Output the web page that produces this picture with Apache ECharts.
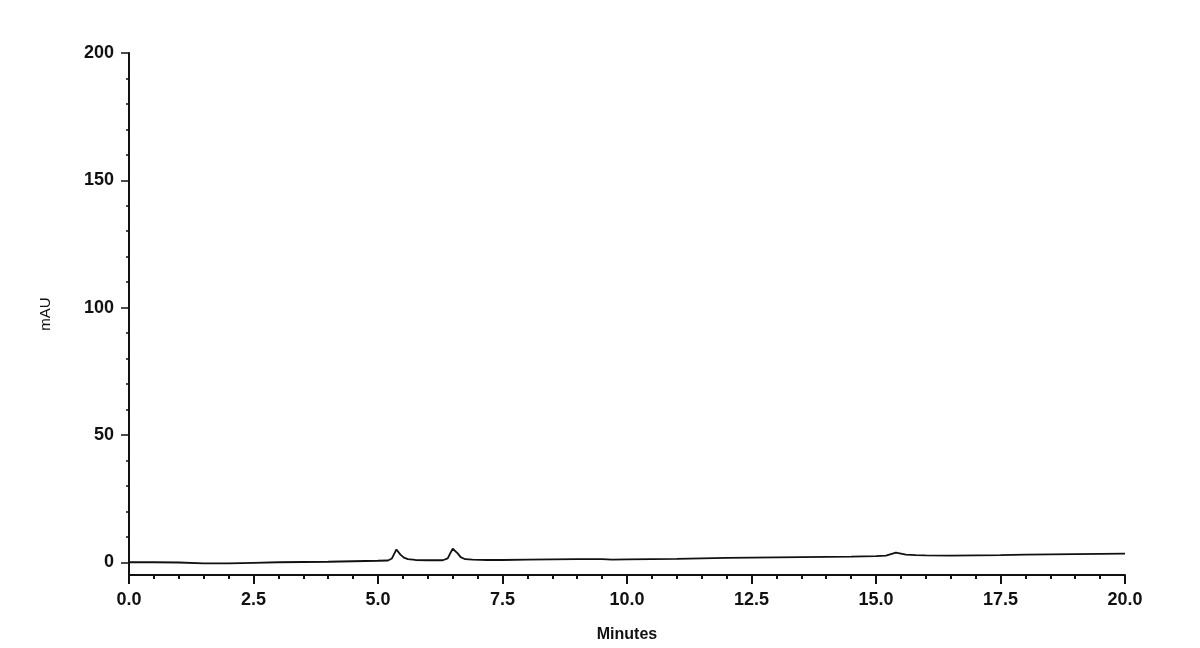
<!DOCTYPE html>
<html>
<head>
<meta charset="utf-8">
<script src="https://cdn.jsdelivr.net/npm/echarts@6/dist/echarts.min.js"></script>
<style>html,body{margin:0;padding:0;background:#fff;}#chart{width:1200px;height:648px;}</style>
</head>
<body>
<div id="chart"></div>
<script>
// Retention time (minutes) and absorbance (mAU)
var times = [0, 0.5, 1.0, 1.5, 2.0, 2.5, 3.0, 3.5, 4.0, 4.5, 5.0, 5.2, 5.28, 5.33, 5.37, 5.40, 5.45, 5.52, 5.6, 5.75, 6.0, 6.3, 6.4, 6.45, 6.5, 6.54, 6.6, 6.66, 6.75, 6.9, 7.2, 7.5, 8.0, 8.5, 9.0, 9.5, 9.7, 10.0, 10.5, 11.0, 11.5, 12.0, 12.5, 13.0, 13.5, 14.0, 14.5, 15.0, 15.2, 15.3, 15.4, 15.5, 15.6, 15.8, 16.0, 16.5, 17.0, 17.5, 18.0, 18.5, 19.0, 19.5, 20.0];
var mAU   = [0.0, 0.0, -0.1, -0.4, -0.4, -0.2, 0.0, 0.1, 0.2, 0.4, 0.6, 0.7, 1.5, 3.5, 5.0, 4.5, 3.0, 1.8, 1.2, 0.9, 0.8, 0.8, 1.5, 3.5, 5.3, 5.0, 3.5, 2.0, 1.2, 1.0, 0.9, 0.9, 1.0, 1.1, 1.2, 1.2, 1.0, 1.1, 1.2, 1.3, 1.5, 1.7, 1.8, 1.9, 2.0, 2.1, 2.2, 2.4, 2.6, 3.2, 3.8, 3.4, 3.0, 2.8, 2.7, 2.6, 2.7, 2.8, 3.0, 3.1, 3.2, 3.3, 3.4];
var yMajorTicks = [0, 50, 100, 150, 200];
var yMinorTicks = [10, 20, 30, 40, 60, 70, 80, 90, 110, 120, 130, 140, 160, 170, 180, 190];

var points = times.map(function (t, i) { return [t, mAU[i]]; });
var labelFont = {fontFamily: 'Liberation Sans, Arial, sans-serif', fontSize: 18, fontWeight: 'bold', color: '#111'};

var chart = echarts.init(document.getElementById('chart'), null, {renderer: 'canvas'});
chart.setOption({
  backgroundColor: '#ffffff',
  animation: false,
  grid: {left: 129, right: 75, top: 53, bottom: 70, containLabel: false},
  xAxis: {
    type: 'value', min: 0, max: 20, interval: 2.5,
    name: 'Minutes', nameLocation: 'middle', nameGap: 52,
    nameTextStyle: {fontFamily: 'Liberation Sans, Arial, sans-serif', fontSize: 16, fontWeight: 'bold', color: '#111'},
    axisLine: {show: true, onZero: false, lineStyle: {color: '#111', width: 2}},
    axisTick: {show: true, length: 9, lineStyle: {color: '#111', width: 2}},
    minorTick: {show: true, splitNumber: 5, length: 4, lineStyle: {color: '#111', width: 2}},
    axisLabel: Object.assign({margin: 16, formatter: function (v) { return v.toFixed(1); }}, labelFont),
    splitLine: {show: false}, minorSplitLine: {show: false}
  },
  yAxis: [{
    type: 'value', min: -5, max: 200,
    name: 'mAU', nameLocation: 'middle', nameGap: 76, nameRotate: 90,
    nameTextStyle: {fontFamily: 'Liberation Sans, Arial, sans-serif', fontSize: 15, color: '#111'},
    axisLine: {show: true, onZero: false, lineStyle: {color: '#111', width: 2}},
    axisTick: {show: true, length: 8, customValues: yMajorTicks, lineStyle: {color: '#111', width: 1.5}},
    axisLabel: Object.assign({margin: 15, customValues: yMajorTicks}, labelFont),
    splitLine: {show: false}
  }, {
    type: 'value', min: -5, max: 200, position: 'left',
    axisLine: {show: false, onZero: false},
    axisTick: {show: true, length: 3, customValues: yMinorTicks, lineStyle: {color: '#111', width: 1.5}},
    axisLabel: {show: false},
    splitLine: {show: false}
  }],
  series: [{
    type: 'line', data: points, showSymbol: false, symbol: 'none', smooth: false,
    lineStyle: {color: '#111', width: 1.8},
    xAxisIndex: 0, yAxisIndex: 0
  }]
});
</script>
</body>
</html>
